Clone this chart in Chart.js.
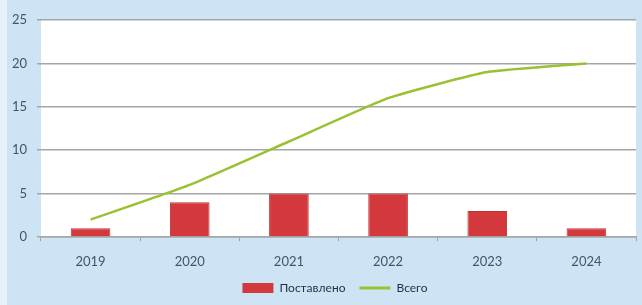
<!DOCTYPE html>
<html>
<head>
<meta charset="utf-8">
<script src="https://cdn.jsdelivr.net/npm/chart.js@4.4.1/dist/chart.umd.min.js"></script>
<style>
  html, body { margin: 0; padding: 0; background: #cde4f4; }
  #wrap { width: 642px; height: 305px; }
</style>
</head>
<body>
<div id="wrap"><canvas id="chart" width="642" height="305"></canvas></div>
<script>
const years = ['2019', '2020', '2021', '2022', '2023', '2024'];
const delivered = [1, 4, 5, 5, 3, 1];   // Поставлено
const total = [2, 6, 11, 16, 19, 20];    // Всего
const yTicks = [0, 5, 10, 15, 20, 25];

// light blue frame + white plot area
const backdrop = {
  id: 'backdrop',
  afterLayout(chart) {
    // legend sits a little right of the canvas centre in the original
    chart.legend.left += 17;
    chart.legend.right += 17;
  },
  beforeDraw(chart) {
    const { ctx, chartArea: a } = chart;
    ctx.save();
    ctx.fillStyle = '#cde4f4';
    ctx.fillRect(0, 0, chart.width, chart.height);
    ctx.fillStyle = '#e6f1f9';
    ctx.fillRect(0, 0, 7, chart.height);
    ctx.fillStyle = '#ffffff';
    ctx.fillRect(a.left, a.top, a.right - a.left, a.bottom - a.top);
    ctx.restore();
  }
};

const font = { family: 'Lato, "Noto Sans", sans-serif', size: 13 };

new Chart(document.getElementById('chart'), {
  data: {
    labels: years,
    datasets: [
      {
        type: 'line',
        label: 'Всего',
        data: total,
        borderColor: '#98c232',
        backgroundColor: '#98c232',
        borderWidth: 2.5,
        pointRadius: 0,
        tension: 0.15,
        order: 0
      },
      {
        type: 'bar',
        label: 'Поставлено',
        data: delivered,
        backgroundColor: '#d2383c',
        borderColor: '#c03236',
        borderWidth: 1,
        categoryPercentage: 1,
        barPercentage: 0.4,
        order: 1
      }
    ]
  },
  options: {
    responsive: false,
    animation: false,
    layout: { padding: { left: 0, right: 6, top: 20, bottom: 1 } },
    plugins: {
      tooltip: { enabled: false },
      legend: {
        position: 'bottom',
        labels: {
          font: { ...font, size: 12 },
          color: '#1f2f45',
          usePointStyle: true,
          pointStyleWidth: 31,
          boxHeight: 10,
          padding: 14,
          generateLabels(chart) {
            return chart.data.datasets.map((ds, i) => ({
              text: ds.label,
              fillStyle: ds.backgroundColor,
              strokeStyle: ds.type === 'line' ? ds.borderColor : ds.backgroundColor,
              lineWidth: ds.type === 'line' ? 3 : 0,
              pointStyle: ds.type === 'line' ? 'line' : 'rect',
              fontColor: '#1f2f45',
              datasetIndex: i,
              hidden: false
            })).reverse();
          }
        }
      }
    },
    scales: {
      x: {
        grid: {
          offset: true,
          drawOnChartArea: false,
          tickLength: 4,
          color: '#9aa4ad'
        },
        border: { color: '#a6a6a6', width: 1.5 },
        ticks: { font, color: '#44546a', padding: 13 },
        afterFit(s) { s.height = 31; }
      },
      y: {
        min: 0,
        max: 25,
        afterBuildTicks(s) { s.ticks = yTicks.map(v => ({ value: v })); },
        grid: { color: '#a6a6a6', lineWidth: 1.5, tickLength: 4 },
        border: { display: false },
        ticks: { font, color: '#44546a', padding: 10 },
        afterFit(s) { s.width = 41; }
      }
    }
  },
  plugins: [backdrop]
});
</script>
</body>
</html>
